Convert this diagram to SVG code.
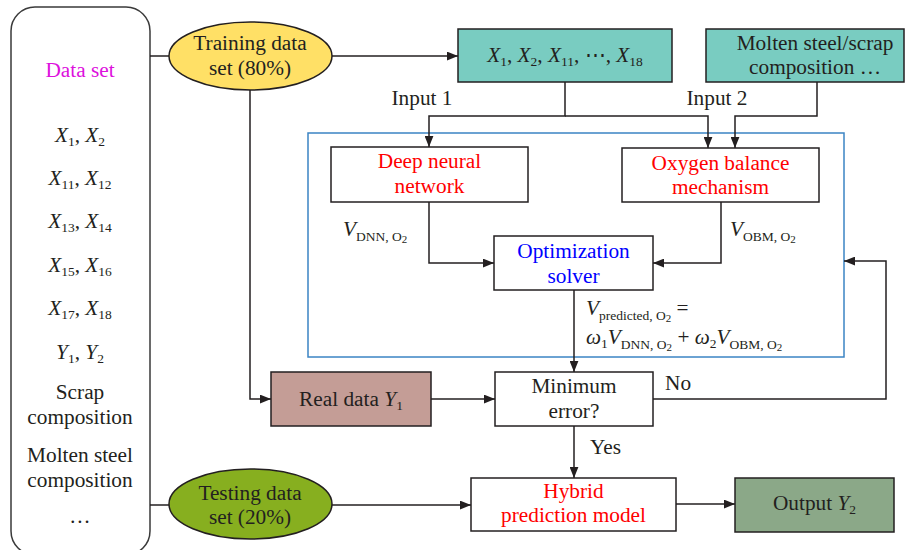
<svg xmlns="http://www.w3.org/2000/svg" width="906" height="550" viewBox="0 0 906 550" font-family="'Liberation Serif', 'Times New Roman', Tinos, 'DejaVu Serif', serif">
<defs>
<style>
text{font-family:'Liberation Serif','Times New Roman',Tinos,'DejaVu Serif',serif;font-size:21.3px;fill:#231F20;text-anchor:middle}
.it{font-style:italic}
.sb{font-size:13.5px}
.ss{font-size:11px}
.red{fill:#FF0000}
.blue{fill:#0000FF}
.mag{fill:#DD11DD}
.box{stroke:#231F20;stroke-width:1.5}
.ln{fill:none;stroke:#231F20;stroke-width:1.5}
</style>
<marker id="ah" viewBox="0 0 10 8" refX="10" refY="4" markerWidth="11" markerHeight="9" markerUnits="userSpaceOnUse" orient="auto">
<path d="M0,0 L10,4 L0,8 Z" fill="#231F20"/>
</marker>
</defs>
<rect width="906" height="550" fill="#FFFFFF"/>

<g id="dataset">
<rect x="11" y="7" width="139" height="548" rx="24" fill="#FFFFFF" stroke="#3A3A3A" stroke-width="1.5"/>
<text x="80" y="77" class="mag">Data set</text>
<text x="80" y="142"><tspan class="it">X</tspan><tspan class="sb" dy="4">1</tspan><tspan dy="-4">, </tspan><tspan class="it">X</tspan><tspan class="sb" dy="4">2</tspan></text>
<text x="80" y="185"><tspan class="it">X</tspan><tspan class="sb" dy="4">11</tspan><tspan dy="-4">, </tspan><tspan class="it">X</tspan><tspan class="sb" dy="4">12</tspan></text>
<text x="80" y="228"><tspan class="it">X</tspan><tspan class="sb" dy="4">13</tspan><tspan dy="-4">, </tspan><tspan class="it">X</tspan><tspan class="sb" dy="4">14</tspan></text>
<text x="80" y="272"><tspan class="it">X</tspan><tspan class="sb" dy="4">15</tspan><tspan dy="-4">, </tspan><tspan class="it">X</tspan><tspan class="sb" dy="4">16</tspan></text>
<text x="80" y="315"><tspan class="it">X</tspan><tspan class="sb" dy="4">17</tspan><tspan dy="-4">, </tspan><tspan class="it">X</tspan><tspan class="sb" dy="4">18</tspan></text>
<text x="80" y="359"><tspan class="it">Y</tspan><tspan class="sb" dy="4">1</tspan><tspan dy="-4">, </tspan><tspan class="it">Y</tspan><tspan class="sb" dy="4">2</tspan></text>
<text x="80" y="399">Scrap</text>
<text x="80" y="424">composition</text>
<text x="80" y="462">Molten steel</text>
<text x="80" y="487">composition</text>
<text x="80" y="523">…</text>
</g>

<g id="training">
<ellipse cx="250.5" cy="56" rx="81.5" ry="34" fill="#FFE066" class="box"/>
<text x="250" y="50">Training data</text>
<text x="250" y="75">set (80%)</text>
</g>

<g id="testing">
<ellipse cx="250.5" cy="504" rx="81.5" ry="35" fill="#87AF1F" class="box"/>
<text x="250" y="500">Testing data</text>
<text x="250" y="524">set (20%)</text>
</g>

<g id="xvars">
<rect x="458" y="29" width="214" height="53" fill="#79CCC1" class="box"/>
<text x="565" y="62"><tspan class="it">X</tspan><tspan class="sb" dy="4">1</tspan><tspan dy="-4">, </tspan><tspan class="it">X</tspan><tspan class="sb" dy="4">2</tspan><tspan dy="-4">, </tspan><tspan class="it">X</tspan><tspan class="sb" dy="4">11</tspan><tspan dy="-4">, ⋯, </tspan><tspan class="it">X</tspan><tspan class="sb" dy="4">18</tspan></text>
</g>

<g id="composition">
<rect x="706" y="29" width="198" height="53" fill="#79CCC1" class="box"/>
<text x="815" y="50">Molten steel/scrap</text>
<text x="815" y="74">composition …</text>
</g>

<g id="hybridframe">
<rect x="308" y="133" width="536" height="224" fill="none" stroke="#3B84C4" stroke-width="1.5"/>
</g>

<g id="dnn">
<rect x="331" y="147" width="197" height="55" fill="#FFFFFF" class="box"/>
<text x="429.5" y="168" class="red">Deep neural</text>
<text x="429.5" y="193" class="red">network</text>
</g>

<g id="obm">
<rect x="622" y="148" width="197" height="54" fill="#FFFFFF" class="box"/>
<text x="720.5" y="170" class="red">Oxygen balance</text>
<text x="720.5" y="194" class="red">mechanism</text>
</g>

<g id="solver">
<rect x="494" y="236" width="159" height="54" fill="#FFFFFF" class="box"/>
<text x="573.5" y="258" class="blue">Optimization</text>
<text x="573.5" y="283" class="blue">solver</text>
</g>

<g id="realdata">
<rect x="271" y="372" width="160" height="54" fill="#C49D96" class="box"/>
<text x="351" y="406">Real data <tspan class="it">Y</tspan><tspan class="sb" dy="4">1</tspan></text>
</g>

<g id="minerror">
<rect x="495" y="372" width="158" height="54" fill="#FFFFFF" class="box"/>
<text x="574" y="393">Minimum</text>
<text x="574" y="418">error?</text>
</g>

<g id="hybrid">
<rect x="471" y="478" width="205" height="53" fill="#FFFFFF" class="box"/>
<text x="573.5" y="498" class="red">Hybrid</text>
<text x="573.5" y="522" class="red">prediction model</text>
</g>

<g id="output">
<rect x="735" y="478" width="159" height="54" fill="#8BA888" class="box"/>
<text x="814.5" y="510">Output <tspan class="it">Y</tspan><tspan class="sb" dy="4">2</tspan></text>
</g>

<g id="connectors">
<path class="ln" d="M150,56 H169"/>
<path class="ln" d="M332,56 H458" marker-end="url(#ah)"/>
<path class="ln" d="M250,90 V399 H271" marker-end="url(#ah)"/>
<path class="ln" d="M565,82 V116 H429 V147" marker-end="url(#ah)"/>
<path class="ln" d="M565,116 H708 V148" marker-end="url(#ah)"/>
<path class="ln" d="M817,82 V116 H735 V148" marker-end="url(#ah)"/>
<path class="ln" d="M429,202 V263 H494" marker-end="url(#ah)"/>
<path class="ln" d="M721,202 V263 H653" marker-end="url(#ah)"/>
<path class="ln" d="M574,290 V372" marker-end="url(#ah)"/>
<path class="ln" d="M431,399 H495" marker-end="url(#ah)"/>
<path class="ln" d="M653,399 H886 V261 H844" marker-end="url(#ah)"/>
<path class="ln" d="M574,426 V478" marker-end="url(#ah)"/>
<path class="ln" d="M150,505 H169"/>
<path class="ln" d="M332,505 H471" marker-end="url(#ah)"/>
<path class="ln" d="M676,504 H735" marker-end="url(#ah)"/>
</g>

<g id="labels">
<text x="422" y="105">Input 1</text>
<text x="717" y="105">Input 2</text>
<text x="343" y="236" style="text-anchor:start"><tspan class="it">V</tspan><tspan class="sb" dy="5">DNN, O</tspan><tspan class="ss" dy="2">2</tspan></text>
<text x="730" y="236" style="text-anchor:start"><tspan class="it">V</tspan><tspan class="sb" dy="5">OBM, O</tspan><tspan class="ss" dy="2">2</tspan></text>
<text x="586" y="315" style="text-anchor:start"><tspan class="it">V</tspan><tspan class="sb" dy="5">predicted, O</tspan><tspan class="ss" dy="2">2</tspan><tspan dy="-7"> =</tspan></text>
<text x="586" y="344" style="text-anchor:start"><tspan class="it">ω</tspan><tspan class="sb" dy="4">1</tspan><tspan class="it" dy="-4">V</tspan><tspan class="sb" dy="5">DNN, O</tspan><tspan class="ss" dy="2">2</tspan><tspan dy="-7"> + </tspan><tspan class="it">ω</tspan><tspan class="sb" dy="4">2</tspan><tspan class="it" dy="-4">V</tspan><tspan class="sb" dy="5">OBM, O</tspan><tspan class="ss" dy="2">2</tspan></text>
<text x="665" y="390" style="text-anchor:start">No</text>
<text x="590" y="454" style="text-anchor:start">Yes</text>
</g>
</svg>
